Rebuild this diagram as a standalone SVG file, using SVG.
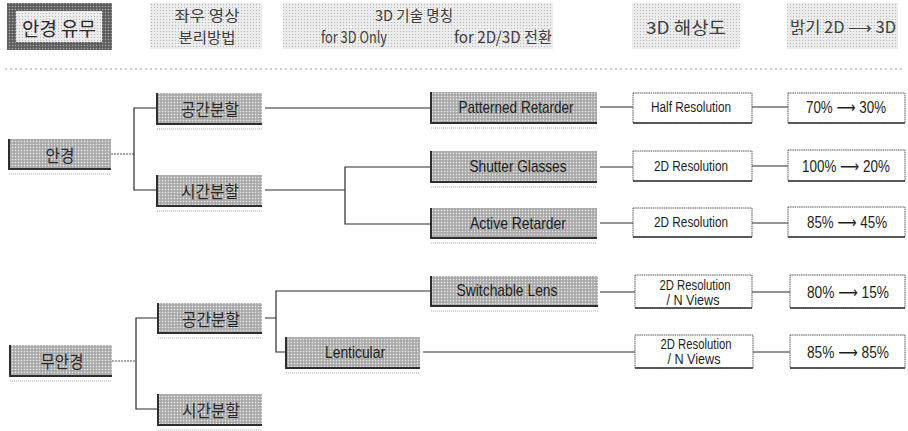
<svg xmlns="http://www.w3.org/2000/svg" width="908" height="431" viewBox="0 0 908 431">
<style>
text{font-family:"Liberation Sans","DejaVu Sans","Noto Sans CJK KR",sans-serif;fill:#1e1e1e;text-anchor:middle;dominant-baseline:central}
.ko{font-family:"Noto Sans CJK KR","Liberation Sans",sans-serif;font-size:17px;fill:#2a2a2a}
.kh{font-family:"Noto Sans CJK KR","Liberation Sans",sans-serif;font-size:15px;fill:#404040}
.en{font-size:17px}
.rs{font-size:14px}
.br{font-size:16px}
.g{fill:url(#dk)}
.h{fill:url(#lt)}
.edge{stroke:#2e2e2e;stroke-width:2;fill:none}
.ul{stroke:#aaa;stroke-width:1;stroke-dasharray:1 1;fill:none}
.w{fill:#fff;stroke:#555;stroke-width:1;stroke-dasharray:1.5 .7}
.wb{stroke:#333;stroke-width:1.5;fill:none}
.c{stroke:#2a2a2a;stroke-width:1.2;fill:none}
.cd{stroke:#555;stroke-width:1.2;stroke-dasharray:2 1;fill:none}
</style>
<defs>
<pattern id="dk" width="3" height="3" patternUnits="userSpaceOnUse"><rect width="3" height="3" fill="#b6b6b6"/><rect width="1" height="1" fill="#e8e8e8"/><rect x="1.5" y="1.5" width="1" height="1" fill="#848484"/></pattern>
<pattern id="lt" width="3" height="3" patternUnits="userSpaceOnUse"><rect width="3" height="3" fill="#ececec"/><rect x="1" y="1" width="1" height="1" fill="#b8b8b8"/></pattern>
<pattern id="hv" width="3" height="3" patternUnits="userSpaceOnUse"><rect width="3" height="3" fill="#6a6a6a"/><rect width="1" height="1" fill="#a8a8a8"/><rect x="1.5" y="1.5" width="1" height="1" fill="#3a3a3a"/></pattern>
</defs>

<g id="header">
<g id="h-glasses"><rect x="7" y="3" width="105" height="47" fill="url(#hv)"/><rect x="16" y="11" width="86" height="31" fill="url(#lt)"/><text x="59" y="27" class="ko" style="font-size:19px" textLength="74" lengthAdjust="spacingAndGlyphs">안경 유무</text></g>
<g id="h-method"><rect x="150" y="3" width="112" height="46" class="h"/><text x="207" y="14" class="kh" textLength="65" lengthAdjust="spacingAndGlyphs">좌우 영상</text><text x="207" y="36" class="kh" textLength="57" lengthAdjust="spacingAndGlyphs">분리방법</text></g>
<g id="h-tech"><rect x="283" y="3" width="270" height="46" class="h"/><text x="414" y="14" class="kh" textLength="78" lengthAdjust="spacingAndGlyphs">3D 기술 명칭</text><text x="354" y="36" class="kh" style="font-size:16px" textLength="66" lengthAdjust="spacingAndGlyphs">for 3D Only</text><text x="503" y="36" class="kh" style="font-size:16px" textLength="98" lengthAdjust="spacingAndGlyphs">for 2D/3D 전환</text></g>
<g id="h-res"><rect x="632" y="3" width="108" height="46" class="h"/><text x="686" y="26" class="kh" style="font-size:17px" textLength="80" lengthAdjust="spacingAndGlyphs">3D 해상도</text></g>
<g id="h-bright"><rect x="787" y="3" width="111" height="46" class="h"/><text x="843" y="26" class="kh" style="font-size:16px" textLength="106" lengthAdjust="spacingAndGlyphs">밝기 2D ⟶ 3D</text></g>
<line x1="5" y1="69" x2="905" y2="69" stroke="#999" stroke-width="1" stroke-dasharray="2 3"/>
</g>

<g id="connectors">
<path class="cd" d="M111 154H134"/>
<path class="c" d="M157 108H134V190H157"/>
<path class="c" d="M265 108H430"/>
<path class="c" d="M265 190H345M430 167H345V224H430"/>
<path class="c" d="M600 107H633M600 167H633M600 223H633"/>
<path class="c" d="M752 107H788M752 166H788M752 223H788"/>
<path class="cd" d="M112 361H136"/>
<path class="c" d="M158 318H136V409H158"/>
<path class="c" d="M265 318H276M430 291H276V352H286"/>
<path class="c" d="M600 292H635M423 352H635"/>
<path class="c" d="M752 292H790M752 352H790"/>
</g>

<g id="n-glasses"><rect x="9" y="139" width="102" height="30" class="g"/><path class="edge" d="M9 139V169H111"/><path class="ul" d="M9 174H111"/><text x="60" y="154" class="ko" textLength="29" lengthAdjust="spacingAndGlyphs">안경</text></g>
<g id="n-space1"><rect x="157" y="93" width="105" height="31" class="g"/><path class="edge" d="M157 93V124H262"/><path class="ul" d="M157 129H262"/><text x="210" y="108" class="ko" textLength="58" lengthAdjust="spacingAndGlyphs">공간분할</text></g>
<g id="n-time1"><rect x="157" y="175" width="105" height="31" class="g"/><path class="edge" d="M157 175V206H262"/><path class="ul" d="M157 211H262"/><text x="210" y="190" class="ko" textLength="58" lengthAdjust="spacingAndGlyphs">시간분할</text></g>
<g id="n-patterned"><rect x="431" y="92" width="166" height="31" class="g"/><path class="edge" d="M431 92V123H597"/><path class="ul" d="M431 128H597"/><text x="516" y="107" class="en" textLength="115" lengthAdjust="spacingAndGlyphs">Patterned Retarder</text></g>
<g id="n-shutter"><rect x="431" y="151" width="166" height="31" class="g"/><path class="edge" d="M431 151V182H597"/><path class="ul" d="M431 187H597"/><text x="518" y="166" class="en" textLength="97" lengthAdjust="spacingAndGlyphs">Shutter Glasses</text></g>
<g id="n-active"><rect x="431" y="208" width="166" height="30" class="g"/><path class="edge" d="M431 208V238H597"/><path class="ul" d="M431 243H597"/><text x="518" y="223" class="en" textLength="96" lengthAdjust="spacingAndGlyphs">Active Retarder</text></g>

<g id="r-half"><rect x="633" y="93" width="119" height="30" class="w"/><path class="wb" d="M633 123H752"/><text x="691" y="107" class="rs" textLength="80" lengthAdjust="spacingAndGlyphs">Half Resolution</text></g>
<g id="r-2d1"><rect x="633" y="151" width="119" height="30" class="w"/><path class="wb" d="M633 181H752"/><text x="691" y="166" class="rs" textLength="74" lengthAdjust="spacingAndGlyphs">2D Resolution</text></g>
<g id="r-2d2"><rect x="633" y="208" width="119" height="29" class="w"/><path class="wb" d="M633 237H752"/><text x="691" y="222" class="rs" textLength="74" lengthAdjust="spacingAndGlyphs">2D Resolution</text></g>
<g id="b-1"><rect x="788" y="93" width="117" height="30" class="w"/><path class="wb" d="M788 123H905"/><text x="846" y="107" class="br" textLength="80" lengthAdjust="spacingAndGlyphs">70% ⟶ 30%</text></g>
<g id="b-2"><rect x="788" y="150" width="117" height="31" class="w"/><path class="wb" d="M788 181H905"/><text x="846" y="166" class="br" textLength="88" lengthAdjust="spacingAndGlyphs">100% ⟶ 20%</text></g>
<g id="b-3"><rect x="788" y="207" width="117" height="30" class="w"/><path class="wb" d="M788 237H905"/><text x="847" y="222" class="br" textLength="80" lengthAdjust="spacingAndGlyphs">85% ⟶ 45%</text></g>

<g id="n-noglasses"><rect x="10" y="345" width="102" height="31" class="g"/><path class="edge" d="M10 345V376H112"/><path class="ul" d="M10 381H112"/><text x="62" y="360" class="ko" textLength="43" lengthAdjust="spacingAndGlyphs">무안경</text></g>
<g id="n-space2"><rect x="158" y="303" width="104" height="30" class="g"/><path class="edge" d="M158 303V333H262"/><path class="ul" d="M158 338H262"/><text x="211" y="318" class="ko" textLength="58" lengthAdjust="spacingAndGlyphs">공간분할</text></g>
<g id="n-time2"><rect x="158" y="394" width="104" height="31" class="g"/><path class="edge" d="M158 394V425H262"/><path class="ul" d="M158 430H262"/><text x="211" y="409" class="ko" textLength="58" lengthAdjust="spacingAndGlyphs">시간분할</text></g>
<g id="n-switch"><rect x="431" y="276" width="167" height="30" class="g"/><path class="edge" d="M431 276V306H598"/><path class="ul" d="M431 311H598"/><text x="507" y="290" class="en" textLength="101" lengthAdjust="spacingAndGlyphs">Switchable Lens</text></g>
<g id="n-lenti"><rect x="286" y="337" width="134" height="31" class="g"/><path class="edge" d="M286 337V368H420"/><path class="ul" d="M286 373H420"/><text x="355" y="352" class="en" textLength="60" lengthAdjust="spacingAndGlyphs">Lenticular</text></g>

<g id="r-nv1"><rect x="635" y="275" width="117" height="33" class="w"/><path class="wb" d="M635 308H752"/><text x="695" y="285" class="rs" textLength="71" lengthAdjust="spacingAndGlyphs">2D Resolution</text><text x="693" y="300" class="rs" textLength="53" lengthAdjust="spacingAndGlyphs">/ N Views</text></g>
<g id="r-nv2"><rect x="635" y="335" width="118" height="33" class="w"/><path class="wb" d="M635 368H753"/><text x="696" y="344" class="rs" textLength="71" lengthAdjust="spacingAndGlyphs">2D Resolution</text><text x="694" y="359" class="rs" textLength="53" lengthAdjust="spacingAndGlyphs">/ N Views</text></g>
<g id="b-4"><rect x="790" y="275" width="115" height="33" class="w"/><path class="wb" d="M790 308H905"/><text x="848" y="292" class="br" textLength="82" lengthAdjust="spacingAndGlyphs">80% ⟶ 15%</text></g>
<g id="b-5"><rect x="790" y="335" width="115" height="33" class="w"/><path class="wb" d="M790 368H905"/><text x="848" y="352" class="br" textLength="82" lengthAdjust="spacingAndGlyphs">85% ⟶ 85%</text></g>
</svg>
